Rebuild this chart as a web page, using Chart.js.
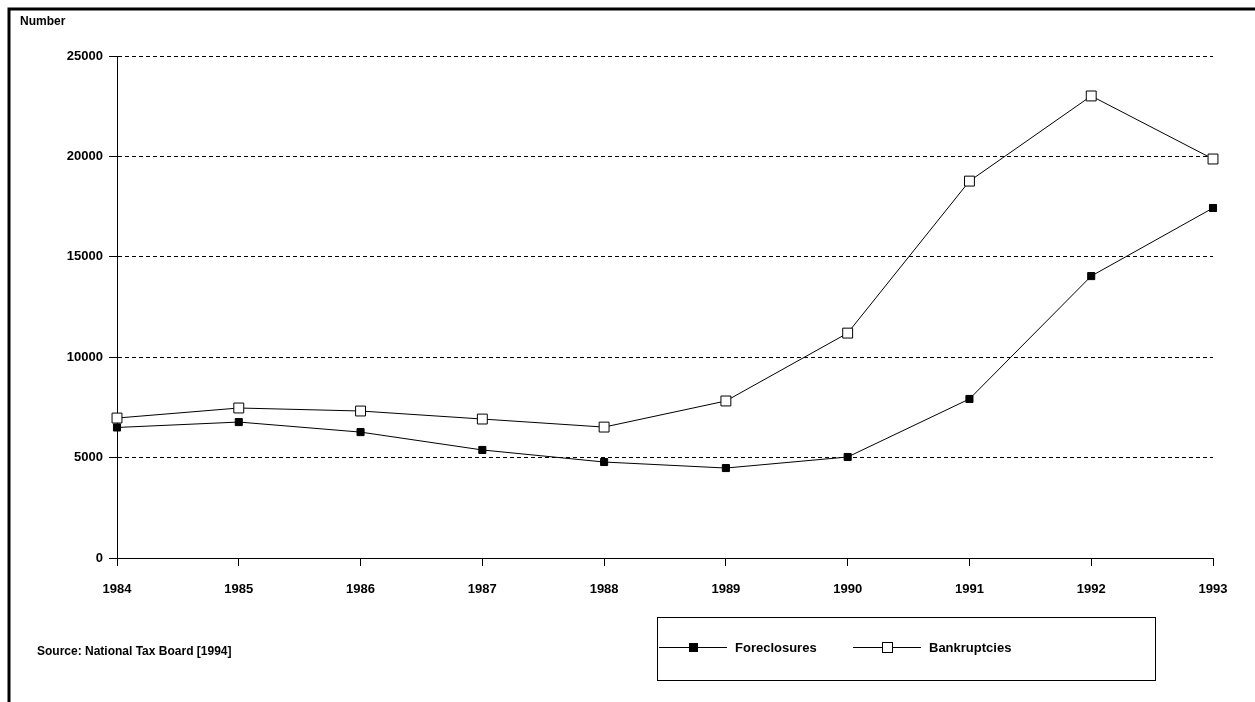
<!DOCTYPE html>
<html>
<head>
<meta charset="utf-8">
<script src="https://cdn.jsdelivr.net/npm/chart.js@4"></script>
<style>
  html, body { margin: 0; padding: 0; background: #fff; }
  #wrap { width: 1255px; height: 702px; }
</style>
</head>
<body>
<div id="wrap"><canvas id="c"></canvas></div>
<script>
// --- DATA ---
const years = ['1984', '1985', '1986', '1987', '1988', '1989', '1990', '1991', '1992', '1993'];
const foreclosures = [6500, 6770, 6270, 5380, 4780, 4480, 5030, 7920, 14040, 17430];
const bankruptcies = [6970, 7470, 7320, 6920, 6520, 7820, 11200, 18770, 23010, 19870];

const FONT = { family: 'Liberation Sans, Arial', size: 13, weight: 'bold' };

// --- EXTRAS: frame, axis title, source, legend box ---
const extras = {
    id: 'extras',
    afterDraw(chart) {
        const ctx = chart.ctx;
        ctx.save();
        ctx.strokeStyle = '#000';
        ctx.lineWidth = 3;
        ctx.beginPath();
        ctx.moveTo(9, 702);
        ctx.lineTo(9, 9);
        ctx.lineTo(1255, 9);
        ctx.stroke();

        ctx.fillStyle = '#000';
        ctx.font = 'bold 12px "Liberation Sans", Arial';
        ctx.textBaseline = 'middle';
        ctx.fillText('Number', 20, 22);
        ctx.fillText('Source: National Tax Board [1994]', 37, 652);

        // legend
        ctx.lineWidth = 1;
        ctx.strokeRect(657.5, 617.5, 498, 63);
        ctx.font = 'bold 13px "Liberation Sans", Arial';
        const items = [
            { x: 659, label: 'Foreclosures', fill: '#000', s: 8 },
            { x: 853, label: 'Bankruptcies', fill: '#fff', s: 10 }
        ];
        items.forEach(it => {
            ctx.beginPath();
            ctx.moveTo(it.x, 647.5);
            ctx.lineTo(it.x + 68, 647.5);
            ctx.stroke();
            ctx.fillStyle = it.fill;
            ctx.fillRect(it.x + 34.5 - it.s / 2, 647.5 - it.s / 2, it.s, it.s);
            ctx.strokeRect(it.x + 34.5 - it.s / 2, 647.5 - it.s / 2, it.s, it.s);
            ctx.fillStyle = '#000';
            ctx.fillText(it.label, it.x + 76, 648);
        });
        ctx.restore();
    }
};

new Chart(document.getElementById('c'), {
    type: 'line',
    data: {
        labels: years,
        datasets: [
            {
                label: 'Foreclosures', data: foreclosures,
                borderColor: '#000', borderWidth: 1,
                pointStyle: 'rect', pointRadius: 5,
                pointBackgroundColor: '#000', pointBorderColor: '#000', pointBorderWidth: 1
            },
            {
                label: 'Bankruptcies', data: bankruptcies,
                borderColor: '#000', borderWidth: 1,
                pointStyle: 'rect', pointRadius: 7,
                pointBackgroundColor: '#fff', pointBorderColor: '#000', pointBorderWidth: 1
            }
        ]
    },
    options: {
        responsive: true,
        maintainAspectRatio: false,
        animation: false,
        layout: { padding: { left: 0, top: 56, right: 42, bottom: 0 } },
        plugins: { legend: { display: false }, tooltip: { enabled: false } },
        scales: {
            x: {
                offset: false,
                afterFit: s => { s.height = 144; },
                grid: { drawOnChartArea: false, tickLength: 8, color: '#000' },
                border: { color: '#000', width: 1 },
                ticks: { color: '#000', font: FONT, padding: 16, maxRotation: 0 }
            },
            y: {
                min: 0, max: 25000,
                afterFit: s => { s.width = 117; },
                grid: { color: '#000', tickLength: 8, lineWidth: 1 },
                border: { color: '#000', width: 1, dash: [4, 3] },
                ticks: { stepSize: 5000, color: '#000', font: FONT, padding: 6, callback: v => String(v) }
            }
        }
    },
    plugins: [extras]
});
</script>
</body>
</html>
